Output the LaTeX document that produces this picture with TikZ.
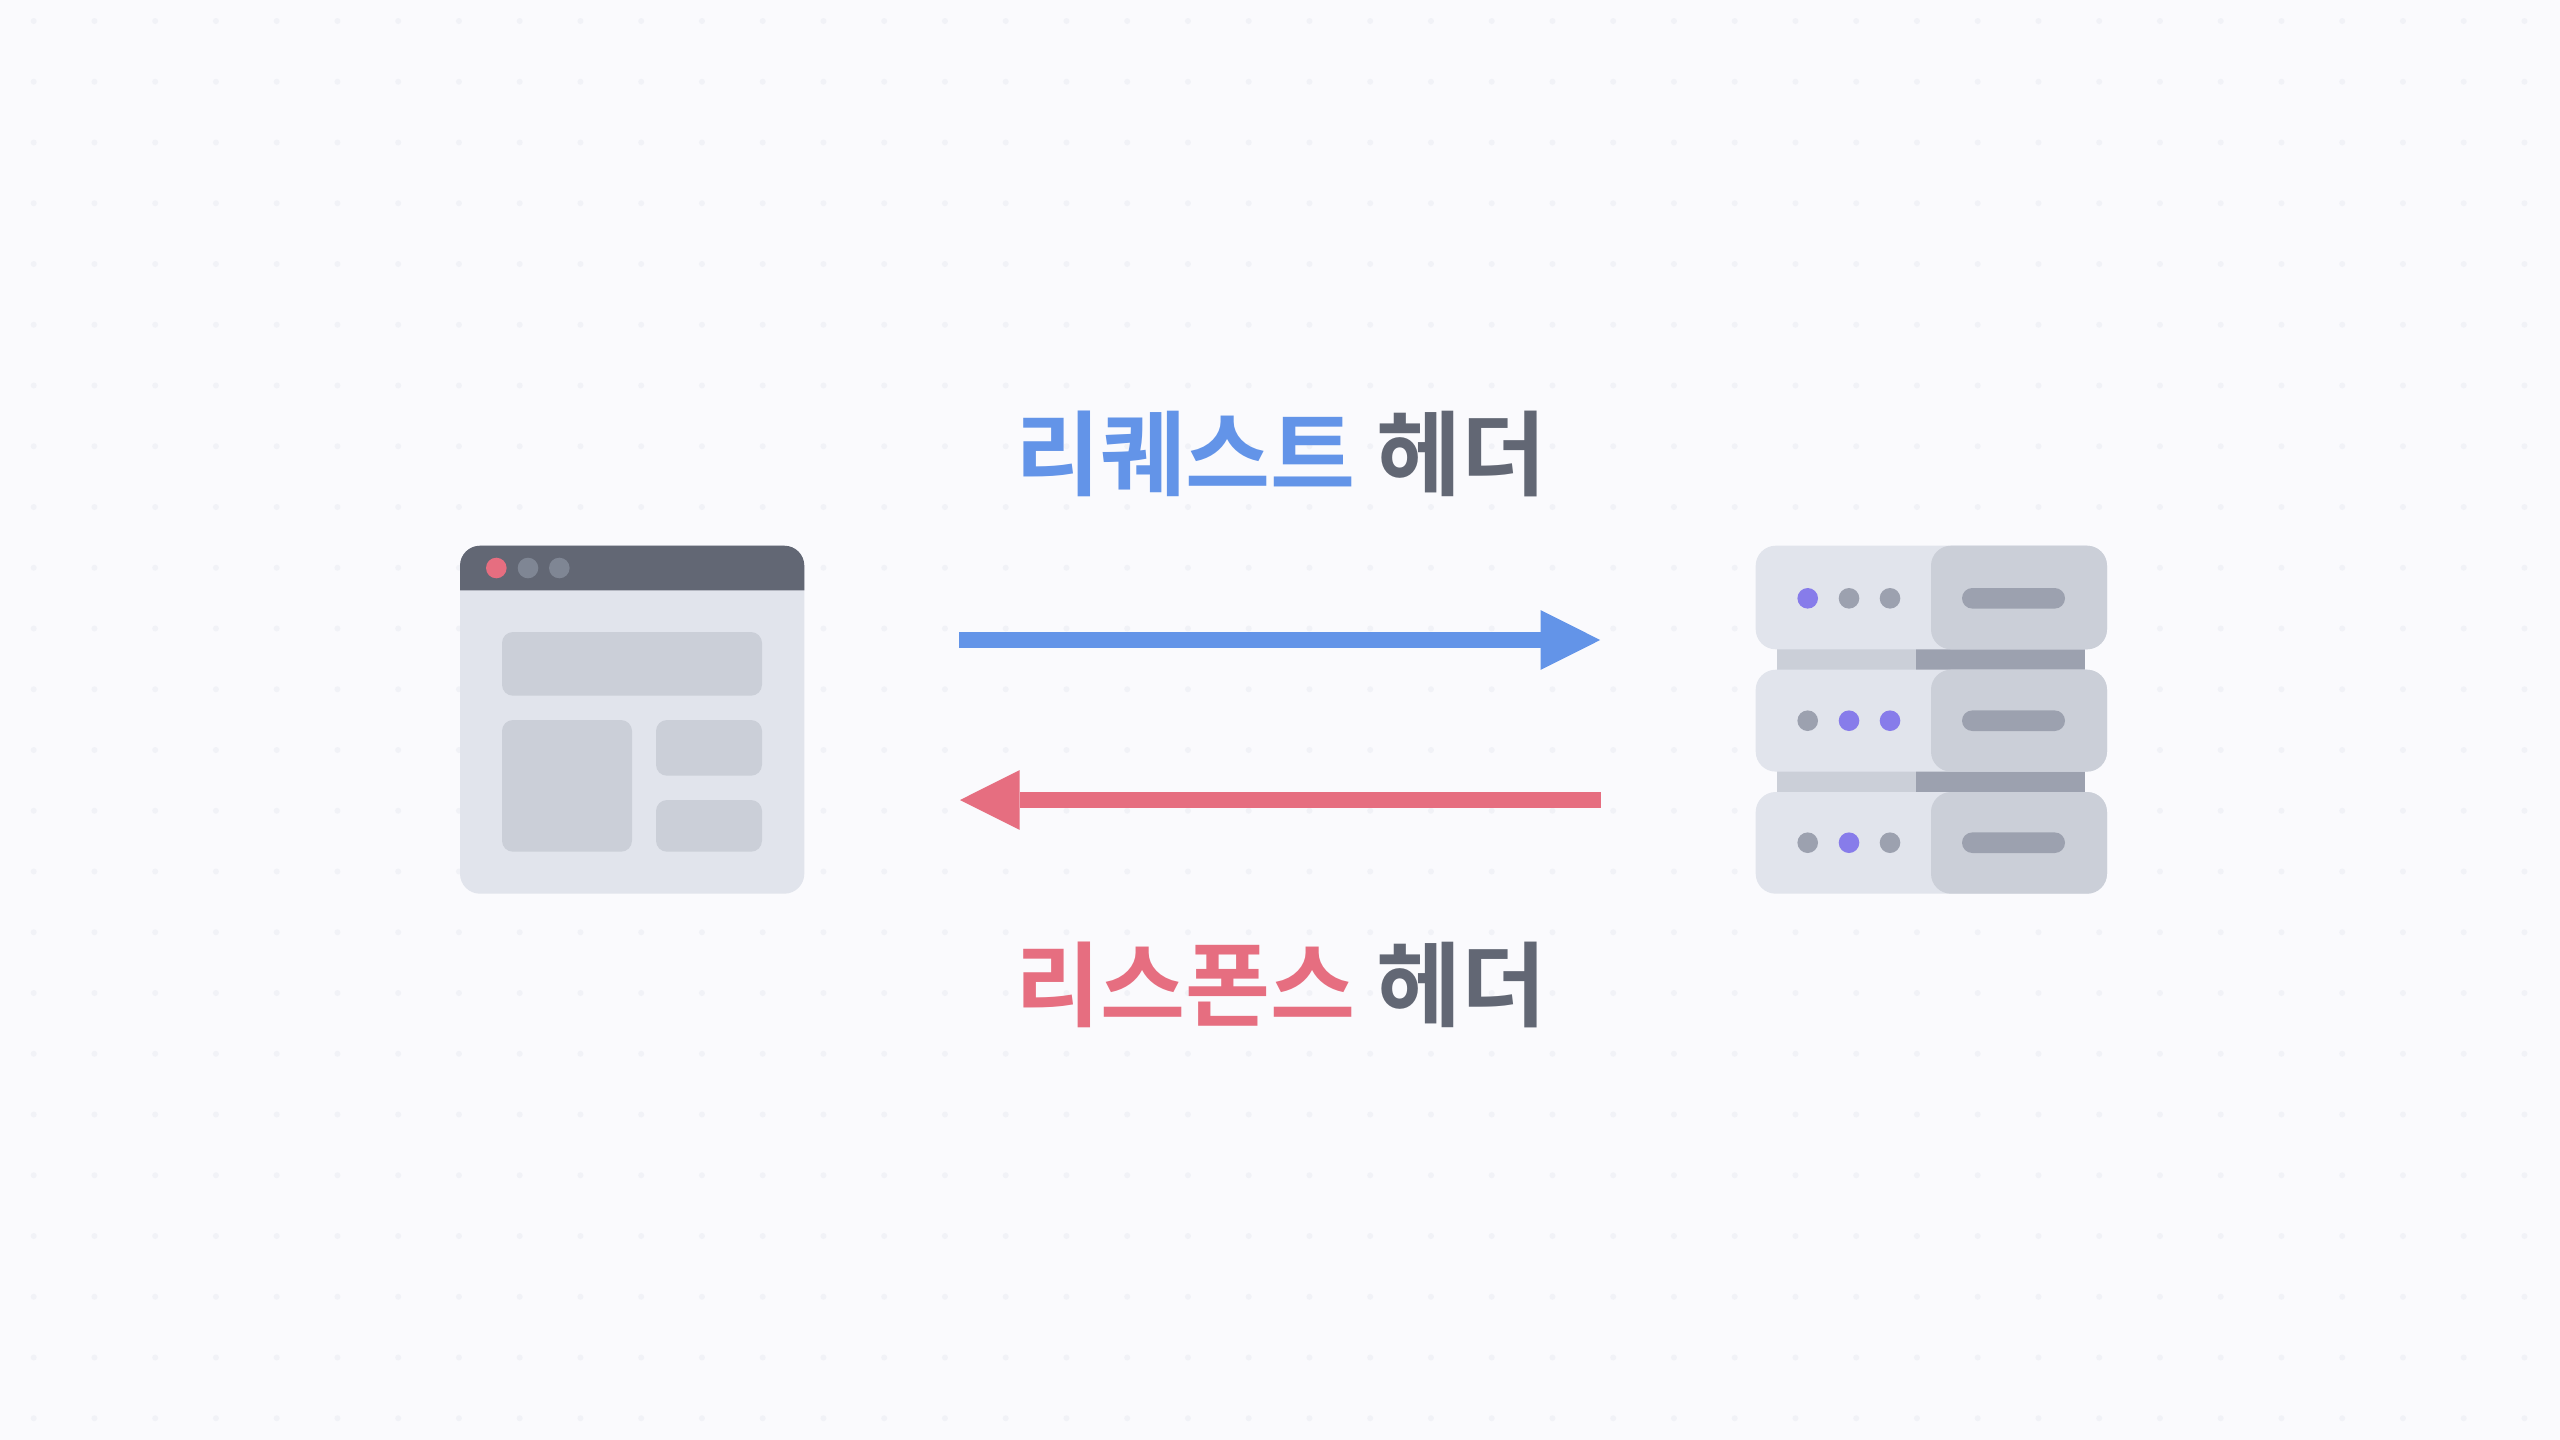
\documentclass[tikz,border=0pt]{standalone}
\usepackage{fontspec}
\usetikzlibrary{arrows.meta}
\newfontfamily\krbold{Noto Sans CJK KR Bold}
\definecolor{bgc}{HTML}{FAFAFD}
\definecolor{dotc}{HTML}{F1F2F7}
\definecolor{panelc}{HTML}{E1E4EC}
\definecolor{midc}{HTML}{CBCFD8}
\definecolor{darkc}{HTML}{9CA1AF}
\definecolor{slatec}{HTML}{626774}
\definecolor{btnc}{HTML}{7F8694}
\definecolor{bluec}{HTML}{6394E8}
\definecolor{redc}{HTML}{E66E80}
\definecolor{purplec}{HTML}{877CEA}
\tikzset{
  px/.style={x=0.5pt,y=-0.5pt},
  big/.style={rounded corners=10pt},
  small/.style={rounded corners=5.5pt},
  label/.style={inner sep=0pt,anchor=base west,font=\krbold\fontsize{46.2pt}{46.2pt}\selectfont},
  reqarrow/.style={draw=bluec,line width=8pt,-{Triangle[length=29.8pt 0 0,width=29.9pt 0,line width=0pt,fill=bluec]}},
  resarrow/.style={draw=redc,line width=8pt,-{Triangle[length=29.8pt 0 0,width=29.9pt 0,line width=0pt,fill=redc]}},
  hole/.style={radius=5.15pt}
}
\begin{document}
\begin{tikzpicture}[px]
\useasboundingbox (0,0) rectangle (2560,1440);
\fill[bgc] (0,0) rectangle (2560,1440);
\foreach \i in {0,...,41}{\foreach \j in {0,...,23}{
  \fill[dotc] ({33.7+60.75*\i},{21+60.75*\j}) circle[radius=1.5pt];}}
% browser
\fill[panelc,big] (460,545.7) rectangle (804.3,893.7);
\fill[slatec] (460,590.3) [rounded corners=10pt] -- (460,545.7) -- (804.3,545.7) [sharp corners] -- (804.3,590.3) -- cycle;
\fill[redc] (496.3,568) circle[hole];
\fill[btnc] (528,568) circle[hole];
\fill[btnc] (559.3,568) circle[hole];
\fill[midc,small] (502,632) rectangle (762,695.7);
\fill[midc,small] (502,720) rectangle (632,851.7);
\fill[midc,small] (656,720) rectangle (762,775.7);
\fill[midc,small] (656,800) rectangle (762,851.7);
% server links
\fill[midc] (1777,649) rectangle (1916,669.7);
\fill[darkc] (1916,649) rectangle (2085.3,669.7);
\fill[midc] (1777,771.3) rectangle (1916,792);
\fill[darkc] (1916,771.3) rectangle (2085.3,792);
% server rows
\foreach \top/\bot/\cy/\a/\b/\c in {545.7/649.3/598.3/purplec/darkc/darkc,
                                     669.7/771.6/720.7/darkc/purplec/purplec,
                                     792/893.7/842.7/darkc/purplec/darkc}{
  \fill[panelc,big] (1755.7,\top) rectangle (2107,\bot);
  \fill[midc,big] (1931,\top) rectangle (2107,\bot);
  \fill[\a] (1807.7,\cy) circle[hole];
  \fill[\b] (1849,\cy) circle[hole];
  \fill[\c] (1890,\cy) circle[hole];
  \fill[darkc,rounded corners=5.15pt] (1962,\cy-10.3) rectangle (2065,\cy+10.3);
}
% arrows
\coordinate (reqstart) at (959.2,640);
\coordinate (reqend) at (1600.2,640);
\coordinate (resstart) at (1600.7,800);
\coordinate (resend) at (960,800);
\draw[reqarrow] (reqstart) -- (reqend);
\draw[resarrow] (resstart) -- (resend);
% labels
\node[label] (reqlabel) at (1015,488.5) {\textcolor{bluec}{리퀘스트} \textcolor{slatec}{헤더}};
\node[label] (reslabel) at (1015,1019) {\textcolor{redc}{리스폰스} \textcolor{slatec}{헤더}};
\end{tikzpicture}
\end{document}
